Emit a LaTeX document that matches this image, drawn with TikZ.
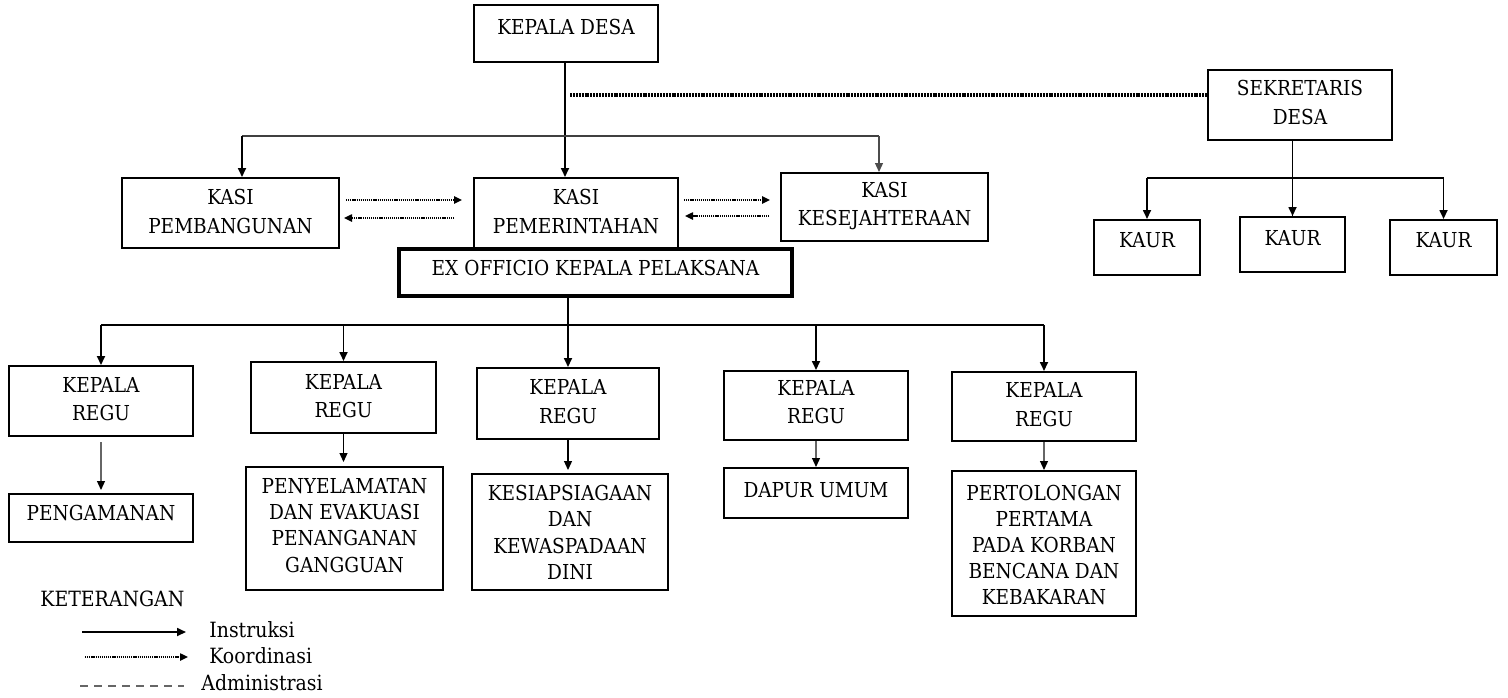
\documentclass[tikz,border=0pt]{standalone}
\usepackage{fontspec}
\setmainfont{DejaVu Serif Condensed}
\usetikzlibrary{arrows.meta,fit,calc}
\begin{document}
\begin{tikzpicture}[x=0.5pt,y=-0.5pt,
  box/.style={draw,line width=1pt,inner sep=0pt},
  thickbox/.style={draw,line width=2pt,inner sep=0pt},
  txt/.style={font=\fontsize{10.3}{14.3}\selectfont,align=center,inner sep=0pt},
  txtc/.style={font=\fontsize{10.3}{13.1}\selectfont,align=center,inner sep=0pt},
  lgd/.style={font=\fontsize{10.5}{12}\selectfont,inner sep=0pt,anchor=west},
  link/.style={line width=0.85pt},
  arr/.style={line width=0.85pt,-{Triangle[length=4.5pt,width=4pt]}},
  garr/.style={line width=0.6pt,black!60,-{Triangle[length=4.5pt,width=4pt,color=black]}},
  koor/.style={line width=0.9pt,dash pattern=on 0.6pt off 0.45pt,-{Triangle[length=4pt,width=3.6pt]}},
  admin/.style={line width=2pt,dash pattern=on 1pt off 0.45pt},
  adminleg/.style={line width=0.7pt,black!60,dash pattern=on 4pt off 3pt}]
\useasboundingbox (0,0) rectangle (1508,697);

% boxes
\node[box,fit={(474,5) (658,62)}] (kd) {};
\node[box,fit={(1208,70) (1392,140)}] (sd) {};
\node[box,fit={(122,178) (339,248)}] (kpb) {};
\node[box,fit={(474,178) (678,248)}] (kpm) {};
\node[box,fit={(781,173) (988,241)}] (kks) {};
\node[thickbox,fit={(399,249) (792,296)}] (ex) {};
\node[box,fit={(1094,220) (1200,275)}] (k1) {};
\node[box,fit={(1240,217) (1345,272)}] (k2) {};
\node[box,fit={(1390,220) (1497,275)}] (k3) {};
\node[box,fit={(9,366) (193,436)}] (r1) {};
\node[box,fit={(251,362) (436,433)}] (r2) {};
\node[box,fit={(477,368) (659,439)}] (r3) {};
\node[box,fit={(724,371) (908,440)}] (r4) {};
\node[box,fit={(952,372) (1136,441)}] (r5) {};
\node[box,fit={(9,494) (193,542)}] (s1) {};
\node[box,fit={(246,467) (443,590)}] (s2) {};
\node[box,fit={(472,474) (668,590)}] (s3) {};
\node[box,fit={(724,468) (908,518)}] (s4) {};
\node[box,fit={(952,471) (1136,616)}] (s5) {};

% texts
\node[txt] (tkd) at (566,27) {KEPALA DESA};
\node[txt] (tsd) at (1300,102.5) {SEKRETARIS\\DESA};
\node[txt] (tkpb) at (230.5,211.5) {KASI\\PEMBANGUNAN};
\node[txt] (tkpm) at (576,211.5) {KASI\\PEMERINTAHAN};
\node[txt] (tkks) at (884.5,206) {KASI\\KESEJAHTERAAN};
\node[txt] (tex) at (595.5,268) {EX OFFICIO KEPALA PELAKSANA};
\node[txt] (tk1) at (1147,240) {KAUR};
\node[txt] (tk2) at (1292.5,238) {KAUR};
\node[txt] (tk3) at (1443.5,240) {KAUR};
\node[txt] (tr1) at (101,399) {KEPALA\\REGU};
\node[txt] (tr2) at (343.5,396) {KEPALA\\REGU};
\node[txt] (tr3) at (568,401.5) {KEPALA\\REGU};
\node[txt] (tr4) at (816,402) {KEPALA\\REGU};
\node[txt] (tr5) at (1044,404.5) {KEPALA\\REGU};
\node[txt] (ts1) at (101,513) {PENGAMANAN};
\node[txtc] (ts2) at (344.5,525.5) {PENYELAMATAN\\DAN EVAKUASI\\PENANGANAN\\GANGGUAN};
\node[txtc] (ts3) at (570,532.5) {KESIAPSIAGAAN\\DAN\\KEWASPADAAN\\DINI};
\node[txt] (ts4) at (816,490) {DAPUR UMUM};
\node[txtc] (ts5) at (1044,545) {PERTOLONGAN\\PERTAMA\\PADA KORBAN\\BENCANA DAN\\KEBAKARAN};

% top connectors
\draw[arr] ($(kd.south)+(-1,0)$) -- ($(kd.south |- kpm.north)+(-1,0)$);
\coordinate (b1l) at (242,136);
\coordinate (b1r) at (879,136);
\draw[link,black!75] (b1l) -- (b1r);
\draw[arr] (b1l) -- (b1l |- kpb.north);
\draw[arr,line width=0.6pt,black!70] (b1r) -- (b1r |- kks.north);
\coordinate (adm) at (570,95);
\draw[admin] (adm) -- (adm -| sd.west);

% coordination arrows
\draw[koor] ($(kpb.east)+(6,-13)$) -- ($(kpm.west)+(-11,-13)$);
\draw[koor] ($(kpm.west)+(-19,5)$) -- ($(kpb.east)+(4,5)$);
\draw[koor] ($(kpm.east)+(5,-13)$) -- ($(kks.west)+(-10,-7)$);
\draw[koor] ($(kks.west)+(-11,9)$) -- ($(kpm.east)+(6,3)$);

% sekretaris
\coordinate (b2) at (0,178);
\draw[link] (k2.north |- sd.south) -- (k2.north);
\draw[link] (k1.north |- b2) -- (k3.north |- b2);
\draw[arr] (k1.north |- b2) -- (k1.north);
\draw[arr] (k2.north |- b2) -- (k2.north);
\draw[arr] (k3.north |- b2) -- (k3.north);

% regu bus
\coordinate (b3) at (0,325);
\draw[arr] (r3.north |- ex.south) -- (r3.north);
\draw[link] (r1.north |- b3) -- (r5.north |- b3);
\draw[arr] (r1.north |- b3) -- (r1.north);
\draw[arr] (r2.north |- b3) -- (r2.north);
\draw[arr] (r4.north |- b3) -- (r4.north);
\draw[arr] (r5.north |- b3) -- (r5.north);

% sub arrows
\draw[garr] ($(r1.south)+(0,5)$) -- ($(r1.south |- s1.north)+(0,-3)$);
\draw[arr,line width=0.6pt] (r2.south) -- ($(r2.south |- s2.north)+(0,-4)$);
\draw[arr,line width=0.6pt] (r3.south) -- ($(r3.south |- s3.north)+(0,-3)$);
\draw[garr] (r4.south) -- (r4.south |- s4.north);
\draw[garr] (r5.south) -- (r5.south |- s5.north);

% legend
\node[lgd] (lk) at (40,599) {KETERANGAN};
\node[lgd] (li) at (209,630) {Instruksi};
\node[lgd] (lo) at (209,656) {Koordinasi};
\node[lgd] (la) at (201,683) {Administrasi};
\coordinate (li0) at (82,632);
\coordinate (lo0) at (85,657);
\coordinate (la0) at (80,686);
\draw[arr] (li0) -- (li0 -| 186,0);
\draw[koor] (lo0) -- (lo0 -| 188,0);
\draw[adminleg] (la0) -- (la0 -| 184,0);
\end{tikzpicture}
\end{document}
